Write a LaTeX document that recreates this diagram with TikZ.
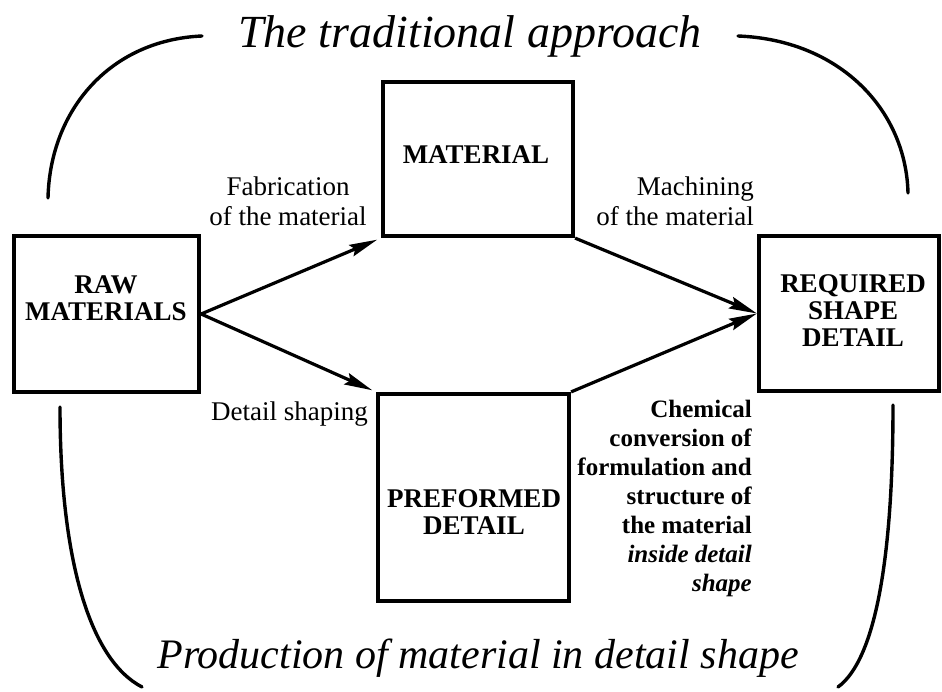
\documentclass[tikz,border=0pt]{standalone}
\usepackage{fontspec}
\setmainfont{Liberation Serif}
\usetikzlibrary{arrows.meta,positioning}

\begin{document}
\begin{tikzpicture}[x=1pt, y=-1pt,
  % boxes are drawn empty, their captions sit near the top
  box/.style={draw, line width=4.2pt, inner sep=0pt},
  boxtext/.style={font=\fontsize{27}{27}\selectfont\bfseries, align=center, inner sep=0pt},
  note/.style={font=\fontsize{27}{30}\selectfont, inner sep=0pt},
  boldnote/.style={font=\fontsize{25}{29}\selectfont\bfseries, align=right, inner sep=0pt},
  heading/.style={font=\fontsize{46}{46}\selectfont\itshape, inner sep=0pt},
  flow/.style={-{Stealth[length=28pt,width=12pt,inset=4pt]}, line width=3.2pt},
  bracket/.style={line width=3.4pt, line cap=round}
]
\useasboundingbox (0,0) rectangle (942,692);

\node[box, minimum width=185pt, minimum height=156pt] (raw) at (106.5,314) {};
\node[box, minimum width=190pt, minimum height=154pt] (mat) at (478,159) {};
\node[box, minimum width=180pt, minimum height=155pt] (req) at (849,313.5) {};
\node[box, minimum width=191pt, minimum height=207pt] (pre) at (473.5,497.5) {};

\node[boxtext, anchor=north] (rawtxt) at (106,275) {RAW\\MATERIALS};
\node[boxtext, anchor=north] (mattxt) at (476,145) {MATERIAL};
\node[boxtext, anchor=north] (reqtxt) at (853,274) {REQUIRED\\SHAPE\\DETAIL};
\node[boxtext, anchor=north] (pretxt) at (474,489) {PREFORMED\\DETAIL};

\node[note, align=center, anchor=north] (fab) at (288,176.5) {Fabrication\\of the material};
\node[note, align=right, anchor=north east] (mach) at (754,176.5) {Machining\\of the material};
\node[note, anchor=north east] (shaping) at (368,402) {Detail shaping};
\node[boldnote, anchor=north east] (chem) at (752,400)
  {Chemical\\conversion of\\formulation and\\structure of\\the material\\\textit{inside detail}\\\textit{shape}};

\node[heading, anchor=base] (trad) at (470,48) {The traditional approach};
\node[heading, font=\fontsize{42}{42}\selectfont\itshape, anchor=base] (prod) at (478,668)
  {Production of material in detail shape};

\draw[flow, shorten >=4pt] (raw.east) -- (mat.south west);
\draw[flow, shorten >=4pt] (raw.east) -- (pre.north west);
\draw[flow] (mat.south east) -- (req.west);
\draw[flow] (pre.north east) -- (req.west);

% the four brackets round the scheme
\draw[bracket] (48,198) .. controls (50,110) and (110,40) .. (202,36);
\draw[bracket] (738,36) .. controls (840,40) and (906,110) .. (908,193);
\draw[bracket] (60,407) .. controls (60,560) and (90,660) .. (142,687);
\draw[bracket] (893,405) .. controls (893,560) and (875,660) .. (838,687);
\end{tikzpicture}
\end{document}
